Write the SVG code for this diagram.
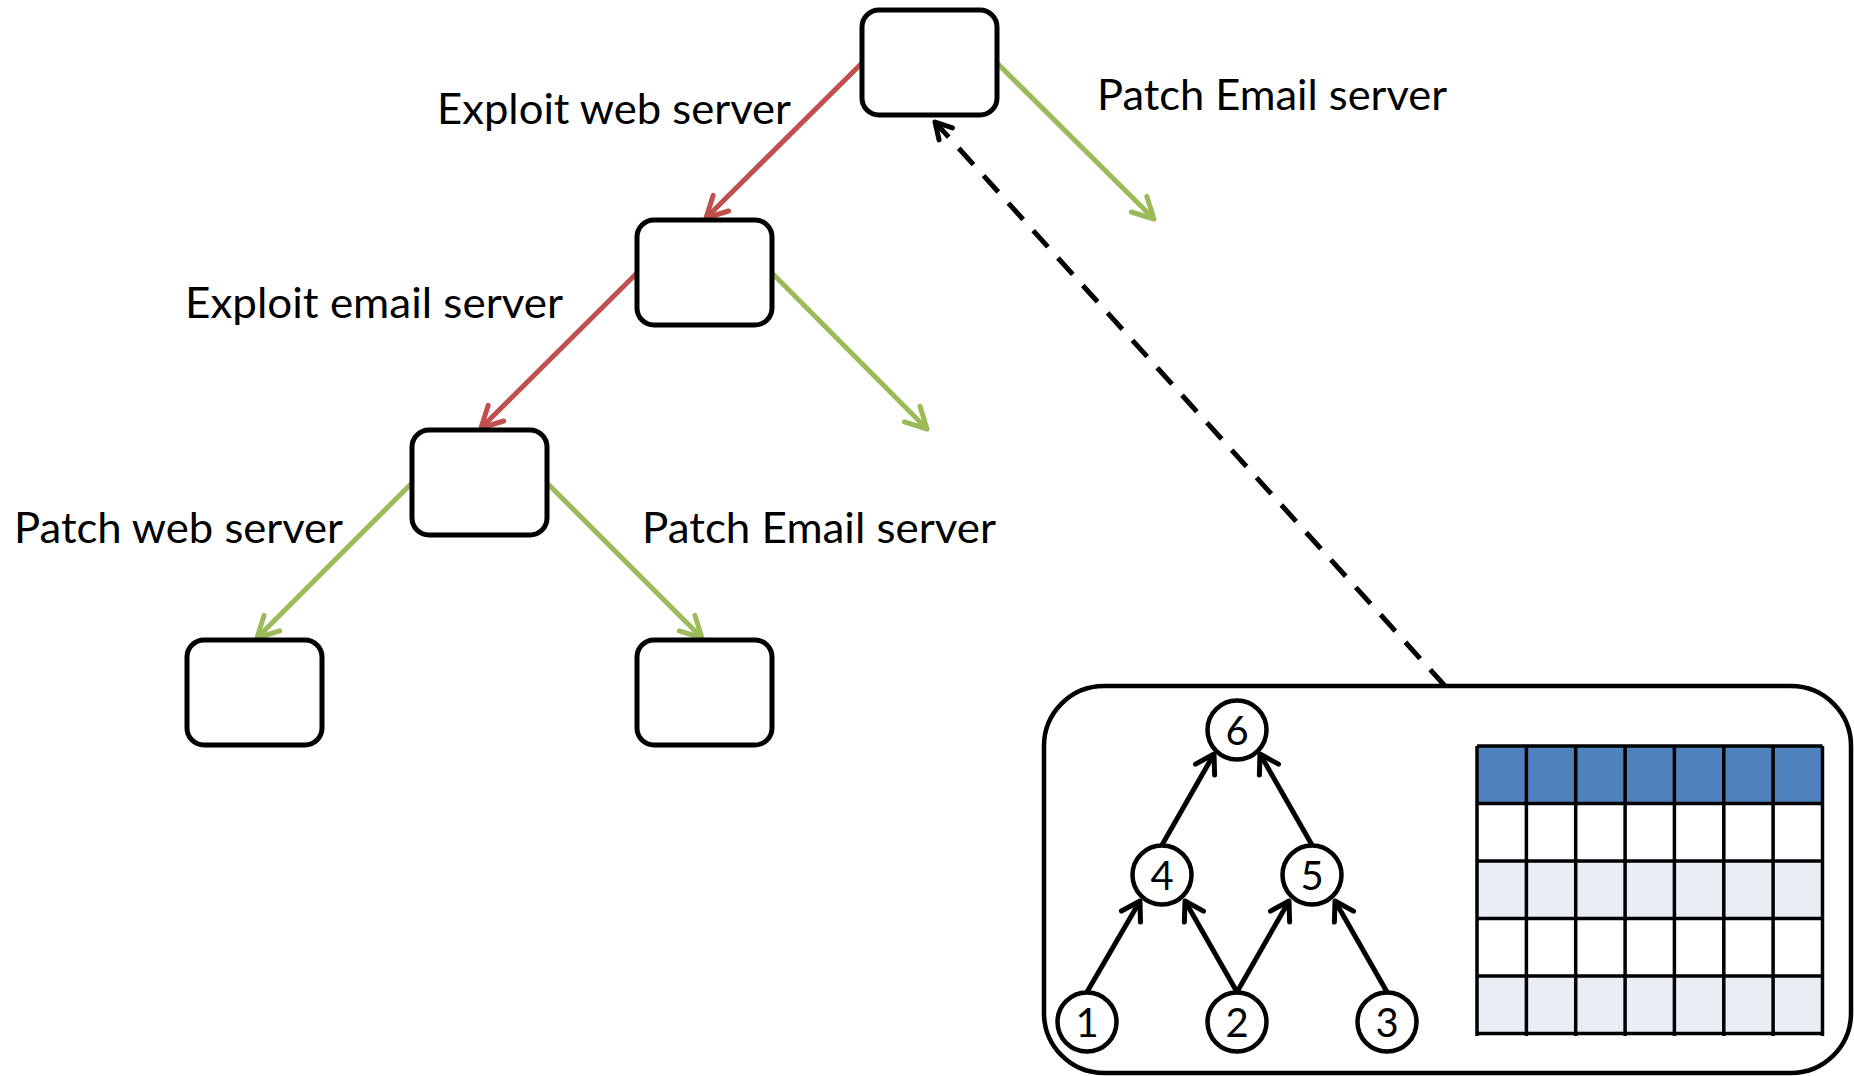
<svg xmlns="http://www.w3.org/2000/svg" width="1854" height="1076" viewBox="0 0 1854 1076">
  <defs>
    <style>
      .state { fill: #ffffff; stroke: #000000; stroke-width: 5; }
      .label { font-family: Lato, "Open Sans", "Liberation Sans", sans-serif; font-size: 43px; fill: #000000; }
      .num { font-family: Lato, "Open Sans", "Liberation Sans", sans-serif; font-size: 40px; fill: #000000; text-anchor: middle; }
      .exploit { stroke: #C0504D; stroke-width: 5; fill: none; marker-end: url(#head-red); }
      .patch { stroke: #9BBB59; stroke-width: 5; fill: none; marker-end: url(#head-green); }
      .dag { stroke: #000000; stroke-width: 5; fill: none; marker-end: url(#head-black); }
      .circ { fill: #ffffff; stroke: #000000; stroke-width: 4.5; }
      .grid { stroke: #000000; stroke-width: 3.5; fill: none; }
    </style>
    <marker id="head-red" markerUnits="userSpaceOnUse" viewBox="-30 -15 35 30" markerWidth="35" markerHeight="30" refX="0" refY="0" orient="auto" overflow="visible">
      <path d="M-21,-11 L0,0 L-21,11" fill="none" stroke="#C0504D" stroke-width="5" stroke-linecap="round" stroke-linejoin="round"/>
    </marker>
    <marker id="head-green" markerUnits="userSpaceOnUse" viewBox="-30 -15 35 30" markerWidth="35" markerHeight="30" refX="0" refY="0" orient="auto" overflow="visible">
      <path d="M-21,-11 L0,0 L-21,11" fill="none" stroke="#9BBB59" stroke-width="5" stroke-linecap="round" stroke-linejoin="round"/>
    </marker>
    <marker id="head-black" markerUnits="userSpaceOnUse" viewBox="-30 -15 35 30" markerWidth="35" markerHeight="30" refX="0" refY="0" orient="auto" overflow="visible">
      <path d="M-18,-11 L0,0 L-18,11" fill="none" stroke="#000000" stroke-width="5" stroke-linecap="round" stroke-linejoin="round"/>
    </marker>
    <marker id="head-dash" markerUnits="userSpaceOnUse" viewBox="-30 -15 35 30" markerWidth="35" markerHeight="30" refX="0" refY="0" orient="auto" overflow="visible">
      <path d="M-16,-9 L0,0 L-16,9" fill="none" stroke="#000000" stroke-width="5" stroke-linecap="round" stroke-linejoin="round"/>
    </marker>
  </defs>

  <rect width="1854" height="1076" fill="#ffffff"/>

  <!-- game tree connectors -->
  <g id="connectors">
    <line class="exploit" x1="862" y1="63" x2="706" y2="218"/>
    <line class="patch" x1="997" y1="63" x2="1154" y2="219"/>
    <line class="exploit" x1="637" y1="273" x2="481" y2="428"/>
    <line class="patch" x1="772" y1="273" x2="927" y2="429"/>
    <line class="patch" x1="412" y1="483" x2="257" y2="638"/>
    <line class="patch" x1="547" y1="483" x2="702" y2="638"/>
    <line x1="1445" y1="686" x2="935" y2="122" stroke="#000000" stroke-width="5" stroke-dasharray="22 15" marker-end="url(#head-dash)"/>
  </g>

  <!-- game tree states -->
  <g id="state-root"><rect class="state" x="862" y="10" width="135" height="105" rx="17"/></g>
  <g id="state-web-exploited"><rect class="state" x="637" y="220" width="135" height="105" rx="17"/></g>
  <g id="state-both-exploited"><rect class="state" x="412" y="430" width="135" height="105" rx="17"/></g>
  <g id="state-web-patched"><rect class="state" x="187" y="640" width="135" height="105" rx="17"/></g>
  <g id="state-email-patched"><rect class="state" x="637" y="640" width="135" height="105" rx="17"/></g>

  <!-- action labels -->
  <g id="labels">
    <text class="label" x="437" y="124" textLength="354" lengthAdjust="spacingAndGlyphs">Exploit web server</text>
    <text class="label" x="1097" y="110" textLength="350" lengthAdjust="spacingAndGlyphs">Patch Email server</text>
    <text class="label" x="185" y="318" textLength="378" lengthAdjust="spacingAndGlyphs">Exploit email server</text>
    <text class="label" x="14" y="543" textLength="329" lengthAdjust="spacingAndGlyphs">Patch web server</text>
    <text class="label" x="642" y="543" textLength="354" lengthAdjust="spacingAndGlyphs">Patch Email server</text>
  </g>

  <!-- detail panel: dependency graph and table -->
  <g id="detail-panel">
    <rect x="1044" y="686" width="807" height="387" rx="60" fill="#ffffff" stroke="#000000" stroke-width="4.5"/>

    <g id="dag-edges">
      <line class="dag" x1="1087" y1="992" x2="1140" y2="901"/>
      <line class="dag" x1="1237" y1="992" x2="1185" y2="901"/>
      <line class="dag" x1="1237" y1="992" x2="1289" y2="901"/>
      <line class="dag" x1="1387" y1="992" x2="1335" y2="901"/>
      <line class="dag" x1="1162" y1="845" x2="1214" y2="754"/>
      <line class="dag" x1="1312" y1="845" x2="1260" y2="754"/>
    </g>

    <g id="dag-node-6"><circle class="circ" cx="1237" cy="730" r="29.5"/><text class="num" x="1237" y="745">6</text></g>
    <g id="dag-node-4"><circle class="circ" cx="1162" cy="875" r="29.5"/><text class="num" x="1162" y="890">4</text></g>
    <g id="dag-node-5"><circle class="circ" cx="1312" cy="875" r="29.5"/><text class="num" x="1312" y="890">5</text></g>
    <g id="dag-node-1"><circle class="circ" cx="1087" cy="1022" r="29.5"/><text class="num" x="1087" y="1037">1</text></g>
    <g id="dag-node-2"><circle class="circ" cx="1237" cy="1022" r="29.5"/><text class="num" x="1237" y="1037">2</text></g>
    <g id="dag-node-3"><circle class="circ" cx="1387" cy="1022" r="29.5"/><text class="num" x="1387" y="1037">3</text></g>

    <g id="table">
      <rect x="1477" y="746" width="345.5" height="57.5" fill="#4F81BD"/>
      <rect x="1477" y="803.5" width="345.5" height="57.5" fill="#ffffff"/>
      <rect x="1477" y="861" width="345.5" height="57.5" fill="#E9EDF4"/>
      <rect x="1477" y="918.5" width="345.5" height="57.5" fill="#ffffff"/>
      <rect x="1477" y="976" width="345.5" height="57.5" fill="#E9EDF4"/>
      <path class="grid" d="M1477,746 H1822.5 M1477,803.5 H1822.5 M1477,861 H1822.5 M1477,918.5 H1822.5 M1477,976 H1822.5 M1477,1033.5 H1822.5"/>
      <path class="grid" d="M1477,746 V1036 M1526.4,746 V1036 M1575.7,746 V1036 M1625.1,746 V1036 M1674.4,746 V1036 M1723.8,746 V1036 M1773.1,746 V1036 M1822.5,746 V1036"/>
    </g>
  </g>
</svg>
